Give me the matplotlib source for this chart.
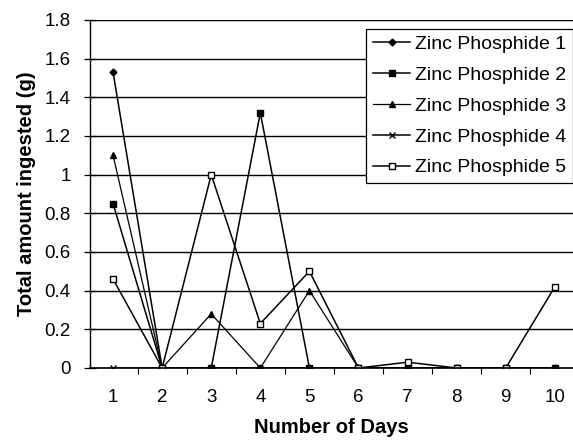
import numpy as np
import matplotlib
matplotlib.use("Agg")
import matplotlib.pyplot as plt
from matplotlib.ticker import FixedLocator, FuncFormatter

plt.rcParams['font.family'] = ['Liberation Sans', 'DejaVu Sans']

days = [1, 2, 3, 4, 5, 6, 7, 8, 9, 10]
zp1 = [1.53, 0, 0, 0, 0, 0, 0, 0, 0, 0]
zp2 = [0.85, 0, 0, 1.32, 0, 0, 0, 0, 0, 0]
zp3 = [1.10, 0, 0.28, 0, 0.40, 0, 0, 0, 0, 0]
zp4 = [0, 0, 0, 0, 0, 0, 0, 0, 0, 0]
zp5 = [0.46, 0, 1.00, 0.23, 0.50, 0, 0.03, 0, 0, 0.42]
labels = ["Zinc Phosphide 1", "Zinc Phosphide 2", "Zinc Phosphide 3",
          "Zinc Phosphide 4", "Zinc Phosphide 5"]

fig = plt.figure(figsize=(5.73, 4.42), dpi=100)
ax = fig.add_axes([90/573, 74/442, 1 - 90/573, 348/442])

ax.plot(days, zp1, color='black', lw=1.1, marker='D', ms=3.5, label=labels[0])
ax.plot(days, zp2, color='black', lw=1.1, marker='s', ms=5, label=labels[1])
ax.plot(days, zp3, color='black', lw=0.9, marker='^', ms=5, label=labels[2])
ax.plot(days, zp4, color='black', lw=1.1, marker='x', ms=5, mew=1, label=labels[3])
ax.plot(days, zp5, color='black', lw=1.1, marker='s', ms=5, mfc='white', label=labels[4])

ax.set_xlim(0.53, 10.37)
ax.set_ylim(0, 1.8)
ax.set_yticks(np.arange(0, 1.81, 0.2))
ax.yaxis.set_major_formatter(FuncFormatter(lambda v, p: ('%.1f' % v).rstrip('0').rstrip('.')))
ax.set_xticks(days)
ax.xaxis.set_minor_locator(FixedLocator(np.arange(1.5, 10.5, 1)))
ax.tick_params(axis='x', which='major', length=0, pad=15, labelsize=13.5)
ax.tick_params(axis='x', which='minor', length=4, direction='out', width=0.8)
ax.tick_params(axis='y', length=8, direction='inout', width=0.9, labelsize=13.5, pad=10)

ax.grid(axis='y', color='black', lw=1.0)
ax.set_axisbelow(True)
for s in ['top', 'right']:
    ax.spines[s].set_visible(False)
ax.spines['left'].set_linewidth(1.0)
ax.spines['bottom'].set_linewidth(1.2)

ax.set_xlabel('Number of Days', fontsize=14.5, fontweight='bold', labelpad=9)
ax.set_ylabel('Total amount ingested (g)', fontsize=14.5, fontweight='bold', labelpad=6)

leg = ax.legend(loc='upper right', bbox_to_anchor=(1.0, 0.975), fontsize=14,
                frameon=True, fancybox=False, edgecolor='black', framealpha=1,
                handlelength=1.9, handletextpad=0.25, borderpad=0.35, labelspacing=0.68,
                borderaxespad=0.0)
leg.get_frame().set_linewidth(0.9)

plt.savefig('out.png', dpi=100)
